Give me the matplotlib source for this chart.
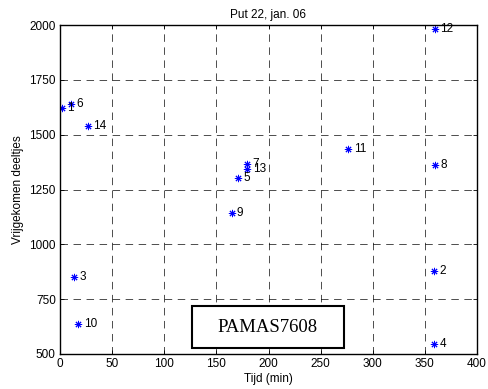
import matplotlib
matplotlib.use("Agg")
import matplotlib.pyplot as plt
from matplotlib.patches import Rectangle

# Data
labels = [1, 2, 3, 4, 5, 6, 7, 8, 9, 10, 11, 12, 13, 14]
tijd = [1.6, 359, 13.4, 359, 171, 10.3, 179.7, 359.7, 164.7, 17.6, 276.6, 359.7, 179.7, 26.9]
deeltjes = [1623, 880, 850, 547, 1301, 1640, 1365, 1362, 1141, 635, 1435, 1982, 1343, 1539]

xticks = [0, 50, 100, 150, 200, 250, 300, 350, 400]
yticks = [500, 750, 1000, 1250, 1500, 1750, 2000]

title = "Put 22, jan. 06"
xlabel = "Tijd (min)"
ylabel = "Vrijgekomen deeltjes"
boxtext = "PAMAS7608"

plt.rcParams['font.family'] = ['Liberation Sans', 'DejaVu Sans']
fig = plt.figure(figsize=(4.88, 3.89), dpi=100)
ax = fig.add_axes([60/488, 1-354/389, 417/488, 329/389])

ax.plot(tijd, deeltjes, linestyle='none', marker=(8, 2, 0), markersize=5.2,
        color='blue', markeredgewidth=0.7)
for lab, x, y in zip(labels, tijd, deeltjes):
    ax.annotate(str(lab), (x, y), xytext=(3.8, 0), textcoords='offset points',
                va='center', ha='left', fontsize=8.5, color='black')

ax.set_xlim(0, 400)
ax.set_ylim(500, 2000)
ax.set_xticks(xticks)
ax.set_yticks(yticks)
ax.tick_params(direction='in', labelsize=8.5, length=3, pad=3, width=0.6)
ax.tick_params(top=True, right=True)
ax.grid(True, color='black', linestyle=(0, (7.7, 5.7)), linewidth=0.7, alpha=0.7)
for s in ax.spines.values():
    s.set_linewidth(1.0)

ax.set_title(title, fontsize=8.5, pad=5)
ax.set_xlabel(xlabel, fontsize=8.5, labelpad=2)
ax.set_ylabel(ylabel, fontsize=8.5, labelpad=4)

# text box
bx0, bx1 = (192-60)/417, (344-60)/417
by0, by1 = (354-348)/329, (354-306)/329
ax.add_patch(Rectangle((bx0, by0), bx1-bx0, by1-by0, transform=ax.transAxes,
                       facecolor='white', edgecolor='black', linewidth=1.5, zorder=5))
ax.text((bx0+bx1)/2, (by0+by1)/2, boxtext, transform=ax.transAxes,
        ha='center', va='center', fontsize=13.5, family='Liberation Serif', zorder=6)

fig.savefig("out.png", dpi=100)
